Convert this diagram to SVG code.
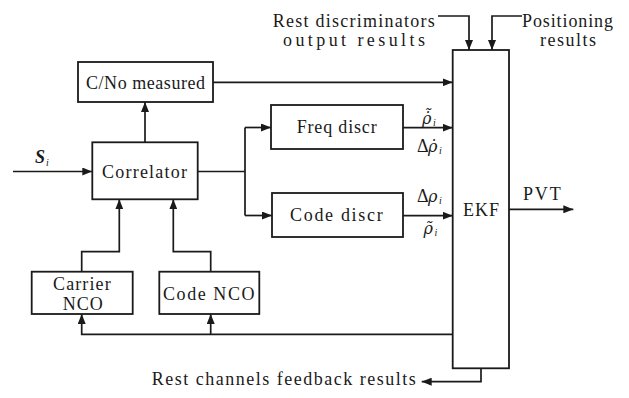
<svg xmlns="http://www.w3.org/2000/svg" width="629" height="398" viewBox="0 0 629 398">
<defs>
<marker id="arr" markerUnits="userSpaceOnUse" markerWidth="10" markerHeight="8" refX="10" refY="4" orient="auto"><path d="M0,0 L10,4 L0,8 z" fill="#1a1a1a"/></marker>
</defs>
<style>
.box{fill:#fff;stroke:#1a1a1a;stroke-width:1.8}
.ln{fill:none;stroke:#1a1a1a;stroke-width:1.7}
.ar{marker-end:url(#arr)}
text{font-family:"Liberation Serif","Times New Roman",serif;fill:#1a1a1a;font-size:18px}
.it{font-style:italic}
.rho{font-family:"DejaVu Serif",serif;font-style:italic;font-size:16px}
.sub{font-size:10px;font-style:italic}
</style>
<rect width="629" height="398" fill="#fff"/>

<g id="connectors">
<path class="ln ar" d="M13,171.5 H92.3"/>
<path class="ln ar" d="M145,142.3 V102"/>
<path class="ln ar" d="M213,82.3 H452.7"/>
<path class="ln" d="M197.7,171.5 H245 M245,127.5 V215.5"/>
<path class="ln ar" d="M245,127.5 H271"/>
<path class="ln ar" d="M245,215.5 H272"/>
<path class="ln ar" d="M403,127.7 H452.7"/>
<path class="ln ar" d="M403,215.7 H452.7"/>
<path class="ln ar" d="M509,209.3 H573.3"/>
<path class="ln ar" d="M438,16 H469 V50"/>
<path class="ln ar" d="M522,16 H492 V50"/>
<path class="ln ar" d="M81.7,271.7 V251.7 H119.3 V199.3"/>
<path class="ln ar" d="M210.7,271.7 V251.7 H173.3 V199.3"/>
<path class="ln ar" d="M452.7,334.3 H81.7 V314"/>
<path class="ln ar" d="M210.7,334.3 V314"/>
<path class="ln ar" d="M481,368.3 V381.7 H421.7"/>
</g>

<g id="cno">
<rect class="box" x="78" y="62" width="135" height="40"/>
<text x="86" y="89" textLength="119" lengthAdjust="spacing">C/No measured</text>
</g>
<g id="correlator">
<rect class="box" x="92.3" y="142.3" width="105.4" height="57"/>
<text x="102" y="178" textLength="85" lengthAdjust="spacing">Correlator</text>
</g>
<g id="freq">
<rect class="box" x="271" y="105" width="132" height="44"/>
<text x="296.7" y="132.5" textLength="80" lengthAdjust="spacing">Freq discr</text>
</g>
<g id="code">
<rect class="box" x="272" y="193" width="131" height="44"/>
<text x="290" y="221" textLength="92.7" lengthAdjust="spacing">Code  discr</text>
</g>
<g id="carrier">
<rect class="box" x="31.7" y="271.7" width="101" height="42.3"/>
<text x="53" y="289.5" textLength="57.7" lengthAdjust="spacing">Carrier</text>
<text x="62.7" y="309.5" textLength="40" lengthAdjust="spacing">NCO</text>
</g>
<g id="codenco">
<rect class="box" x="159.3" y="271.7" width="100" height="42.3"/>
<text x="163" y="300" textLength="91.5" lengthAdjust="spacing">Code NCO</text>
</g>
<g id="ekf">
<rect class="box" x="452.7" y="50" width="56.3" height="318.3"/>
<text x="463" y="216" textLength="36" lengthAdjust="spacing">EKF</text>
</g>

<g id="labels">
<text><tspan x="35" y="163" class="it" font-weight="bold">S</tspan><tspan x="46" y="166" class="sub">i</tspan></text>
<text x="523" y="200" textLength="37.7" lengthAdjust="spacing">PVT</text>
<text x="272.7" y="27" textLength="162" lengthAdjust="spacing">Rest discriminators</text>
<text x="283" y="46" textLength="142" lengthAdjust="spacing">output results</text>
<text x="522" y="27" textLength="91" lengthAdjust="spacing">Positioning</text>
<text x="540" y="46" textLength="56" lengthAdjust="spacing">results</text>
<text x="151.7" y="385" textLength="264" lengthAdjust="spacing">Rest channels feedback results</text>

<text><tspan x="422" y="123.5" class="rho">ρ̇̃</tspan><tspan x="433" y="125.5" class="sub">i</tspan></text>
<text><tspan x="417" y="151.5">Δ</tspan><tspan x="428" y="151.5" class="rho">ρ̇</tspan><tspan x="439" y="153.5" class="sub">i</tspan></text>
<text><tspan x="417" y="202">Δ</tspan><tspan x="428" y="202" class="rho">ρ</tspan><tspan x="439" y="204" class="sub">i</tspan></text>
<text><tspan x="423.5" y="233.5" class="rho">ρ̃</tspan><tspan x="434.5" y="235.5" class="sub">i</tspan></text>
</g>
</svg>
